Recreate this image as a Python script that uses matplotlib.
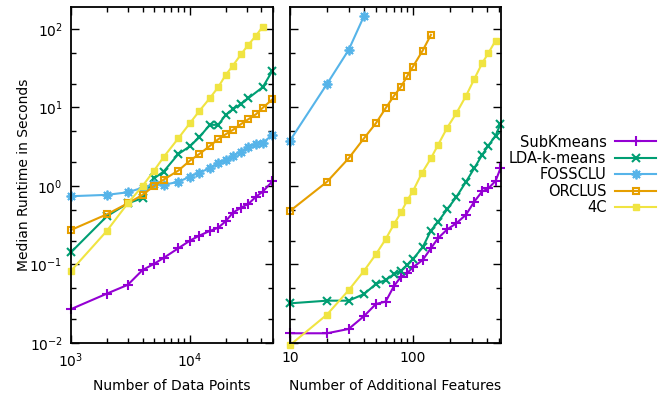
import numpy as np
import matplotlib
matplotlib.use('Agg')
import matplotlib.pyplot as plt
from matplotlib.ticker import LogLocator, NullFormatter, FuncFormatter

# left panel: runtime vs number of data points
sub_n = [1000, 2000, 3000, 4000, 5000, 6000, 8000, 10000, 12000, 14700, 17300,
         20000, 23000, 27000, 31000, 36000, 41000, 49500]
sub_t = [0.027, 0.0425, 0.055, 0.085, 0.102, 0.121, 0.161, 0.201, 0.233, 0.267,
         0.294, 0.355, 0.457, 0.53, 0.59, 0.73, 0.846, 1.15]

lda_n = [1000, 2000, 3000, 4000, 5000, 6000, 8000, 10000, 12000, 14700, 17300,
         20000, 23000, 27000, 31000, 41000, 49500]
lda_t = [0.143, 0.41, 0.6, 0.70, 1.25, 1.52, 2.55, 3.2, 4.17, 6.0, 6.0,
         8.0, 9.5, 11.1, 13.1, 18.1, 29.4]

fos_n = [1000, 2000, 3000, 4000, 5000, 6000, 8000, 10000, 12000, 14700, 17300,
         20000, 23000, 27000, 31000, 36000, 41000, 49500]
fos_t = [0.74, 0.77, 0.83, 0.95, 1.06, 1.03, 1.13, 1.31, 1.48, 1.68, 1.94,
         2.14, 2.41, 2.74, 3.17, 3.39, 3.56, 4.46]

orc_n = [1000, 2000, 3000, 4000, 5000, 6000, 8000, 10000, 12000, 14700, 17300,
         20000, 23000, 27000, 31000, 36000, 41000, 49500]
orc_t = [0.275, 0.435, 0.60, 0.77, 1.0, 1.2, 1.57, 2.1, 2.55, 3.23, 3.93,
         4.55, 5.17, 6.16, 7.07, 8.19, 9.9, 12.7]

c4_n = [1000, 2000, 3000, 4000, 5000, 6000, 8000, 10000, 12000, 14700, 17300,
        20000, 23000, 27000, 31000, 36000, 41000]
c4_t = [0.083, 0.267, 0.6, 1.0, 1.57, 2.32, 4.05, 6.3, 9.0, 13.1, 18.1,
        25.9, 34.1, 47.7, 62.8, 82.0, 107]

# right panel: runtime vs number of additional features
sub_f = [10, 20, 30, 40, 50, 60, 70, 80, 90, 100, 120, 140, 160, 190, 225,
         270, 315, 365, 410, 470, 515]
sub_ft = [0.0133, 0.0133, 0.0151, 0.022, 0.0314, 0.0337, 0.053, 0.07, 0.078,
          0.092, 0.114, 0.161, 0.216, 0.28, 0.334, 0.43, 0.63, 0.85, 0.93,
          1.16, 1.68]

lda_f = [10, 20, 30, 40, 50, 60, 70, 80, 90, 100, 120, 140, 160, 190, 225,
         270, 315, 365, 410, 470, 515]
lda_ft = [0.032, 0.0346, 0.0346, 0.042, 0.0565, 0.0635, 0.075, 0.083, 0.098,
          0.117, 0.166, 0.27, 0.35, 0.505, 0.72, 1.13, 1.68, 2.48, 3.26,
          4.37, 6.16]

fos_f = [10, 20, 30, 40]
fos_ft = [3.78, 19.9, 54, 146]

orc_f = [10, 20, 30, 40, 50, 60, 70, 80, 90, 100, 120, 140]
orc_ft = [0.48, 1.13, 2.25, 4.05, 6.3, 9.8, 14, 18.4, 25.2, 33.1, 53, 84]

c4_f = [10, 20, 30, 40, 50, 60, 70, 80, 90, 100, 118, 140, 160, 190, 225,
        270, 315, 365, 410, 470]
c4_ft = [0.0094, 0.023, 0.047, 0.083, 0.135, 0.21, 0.325, 0.46, 0.66, 0.86,
         1.45, 2.25, 3.33, 5.53, 8.4, 14, 22.9, 36.5, 49, 71]

names = ['SubKmeans', 'LDA-k-means', 'FOSSCLU', 'ORCLUS', '4C']
colors = ['#9400D3', '#009E73', '#56B4E9', '#E69F00', '#F0E442']

plt.rcParams['font.family'] = ['DejaVu Sans']
plt.rcParams['font.size'] = 10

fig = plt.figure(figsize=(6.62, 3.96), dpi=100)
ax1 = fig.add_axes([71/662, 1-343/396, 202/662, 336/396])
ax2 = fig.add_axes([290/662, 1-343/396, 211/662, 336/396], sharey=ax1)

styles = [
    dict(marker='+', ms=7, mew=1.5),
    dict(marker='x', ms=6, mew=1.5),
    dict(marker=(8, 2, 0), ms=7, mew=1.3),
    dict(marker='s', ms=5, mew=1.5, mfc='none'),
    dict(marker='s', ms=5, mew=1.0),
]

left = [(sub_n, sub_t), (lda_n, lda_t), (fos_n, fos_t), (orc_n, orc_t), (c4_n, c4_t)]
right = [(sub_f, sub_ft), (lda_f, lda_ft), (fos_f, fos_ft), (orc_f, orc_ft), (c4_f, c4_ft)]

for i in range(5):
    ax1.plot(left[i][0], left[i][1], color=colors[i], lw=1.5, label=names[i],
             clip_on=False, **styles[i])
    ax2.plot(right[i][0], right[i][1], color=colors[i], lw=1.5,
             clip_on=False, **styles[i])

for ax in (ax1, ax2):
    ax.set_xscale('log')
    ax.set_yscale('log')
    ax.xaxis.set_minor_locator(LogLocator(base=10, subs=np.arange(2, 10)))
    ax.yaxis.set_minor_locator(LogLocator(base=10, subs=(2, 5)))
    ax.xaxis.set_minor_formatter(NullFormatter())
    ax.yaxis.set_minor_formatter(NullFormatter())
    ax.tick_params(which='both', direction='in', top=True, right=True, width=1)
    ax.tick_params(which='major', length=6, pad=6)
    ax.tick_params(which='minor', length=3.5)
    for s in ax.spines.values():
        s.set_linewidth(1.3)

ax1.set_ylim(0.01, 190)
ax1.set_xlim(1000, 50000)
ax2.set_xlim(10, 520)
ax2.xaxis.set_major_formatter(FuncFormatter(lambda v, p: '%g' % v))
ax2.tick_params(labelleft=False)

ax1.set_xlabel('Number of Data Points')
ax2.set_xlabel('Number of Additional Features')
ax1.xaxis.set_label_coords(0.5, -0.108)
ax2.xaxis.set_label_coords(0.5, -0.108)
ax1.set_ylabel('Median Runtime in Seconds')
ax1.yaxis.set_label_coords(-0.2, 0.5)

fig.legend(loc='center right', bbox_to_anchor=(656/662, 1-175/396),
           markerfirst=False, frameon=False, handlelength=2.8, fontsize=10.5,
           labelspacing=0.1, borderpad=0, borderaxespad=0, handletextpad=0.6)

plt.savefig('out.png', dpi=100)
